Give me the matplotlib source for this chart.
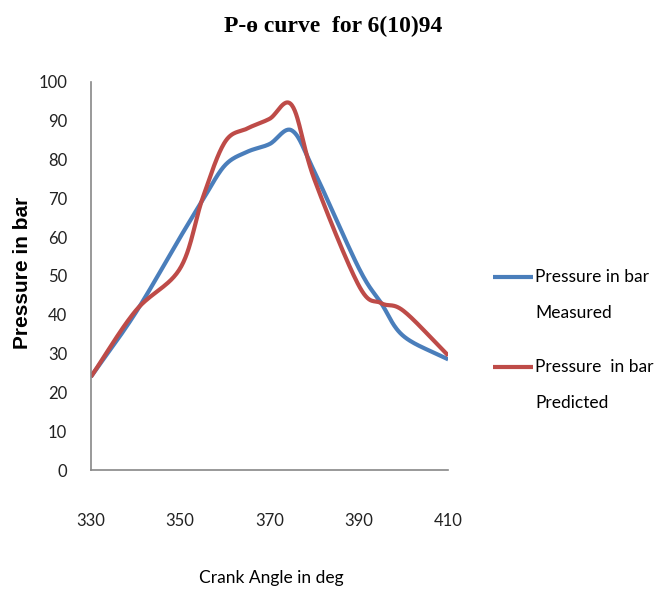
import numpy as np
import matplotlib
matplotlib.use("Agg")
import matplotlib.pyplot as plt
from matplotlib.lines import Line2D

crank_angle = [330, 340, 350, 355, 360, 365, 370, 375, 380, 390, 395, 400, 410]
measured = [24, 40.5, 60, 69.5, 78.5, 82, 84, 87.5, 77, 52, 43, 34.5, 28.5]
predicted = [24, 41, 52, 70, 84.5, 88, 90.5, 94, 75, 47.5, 43, 41, 29.5]
x_ticks = [330, 350, 370, 390, 410]
y_ticks = list(range(0, 101, 10))
series_names = ["Pressure in bar", "Pressure  in bar"]
series_kinds = ["Measured", "Predicted"]
series_colors = ["#4A7EBB", "#BE4B48"]
title = "P-ɵ curve  for 6(10)94"
x_label = "Crank Angle in deg"
y_label = "Pressure in bar"


def smooth(x, y, n=30):
    # Catmull-Rom rendering of the data points (like Excel smoothed lines)
    x = np.asarray(x, float)
    y = np.asarray(y, float)
    P = np.column_stack([x, y])
    P = np.vstack([2 * P[0] - P[1], P, 2 * P[-1] - P[-2]])
    out = []
    t = np.linspace(0, 1, n)[:, None]
    for i in range(1, len(P) - 2):
        p0, p1, p2, p3 = P[i - 1], P[i], P[i + 1], P[i + 2]
        m1 = (p2 - p0) / 2
        m2 = (p3 - p1) / 2
        h00 = 2 * t**3 - 3 * t**2 + 1
        h10 = t**3 - 2 * t**2 + t
        h01 = -2 * t**3 + 3 * t**2
        h11 = t**3 - t**2
        seg = h00 * p1 + h10 * m1 + h01 * p2 + h11 * m2
        out.append(seg if i == 1 else seg[1:])
    S = np.vstack(out)
    return S[:, 0], S[:, 1]


W, H = 668, 591
fig = plt.figure(figsize=(W / 100, H / 100), dpi=100)
ax = fig.add_axes([0.136, 0.2047, 0.535, 0.6566])

for yv, col in zip([measured, predicted], series_colors):
    sx, sy = smooth(crank_angle, yv)
    ax.plot(sx, sy, color=col, lw=3, solid_capstyle="butt")

ax.set_xlim(330, 410)
ax.set_ylim(0, 100)
ax.set_xticks(x_ticks)
ax.set_yticks(y_ticks)
for s in ["top", "right"]:
    ax.spines[s].set_visible(False)
for s in ["left", "bottom"]:
    ax.spines[s].set_color("#888888")
    ax.spines[s].set_linewidth(1.2)
ax.tick_params(axis="both", length=0, labelsize=12, colors="#222222")
ax.tick_params(axis="y", pad=17)
ax.tick_params(axis="x", pad=31)
for lab in ax.get_xticklabels() + ax.get_yticklabels():
    lab.set_fontfamily("Lato")

fig.text(0.499, 0.955, title, ha="center", va="center", fontsize=17,
         fontfamily="Liberation Serif", fontweight="bold")
fig.text(0.406, 1 - 578 / H, x_label, ha="center", va="center", fontsize=12.5,
         fontfamily="Lato")
fig.text(0.033, 1 - 273 / H, y_label, ha="center", va="center", rotation=90,
         fontsize=15, fontfamily="Liberation Sans", fontweight="bold")

# legend
for (y1, y2), name, kind, col in zip([(277, 313), (367, 403)], series_names,
                                     series_kinds, series_colors):
    fig.add_artist(Line2D([493 / W, 533 / W], [1 - y1 / H, 1 - y1 / H],
                          color=col, lw=3, solid_capstyle="butt"))
    fig.text(535 / W, 1 - y1 / H, name, ha="left", va="center",
             fontsize=12.5, fontfamily="Lato")
    fig.text(535 / W, 1 - y2 / H, kind, ha="left", va="center",
             fontsize=12.5, fontfamily="Lato")

fig.savefig("out.png", dpi=100, facecolor="white")
